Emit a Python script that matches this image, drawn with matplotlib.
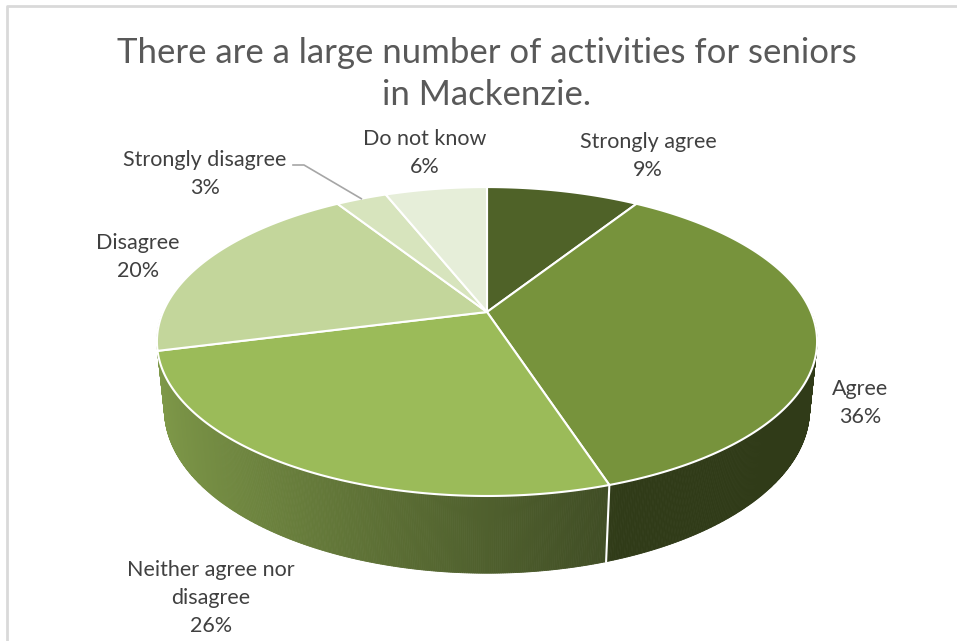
# 3D style pie chart of survey answers (Mackenzie seniors activities)

import numpy as np
import matplotlib.pyplot as plt
from matplotlib.patches import Polygon

title = "There are a large number of activities for seniors\nin Mackenzie."
categories = ["Strongly agree", "Agree", "Neither agree nor\ndisagree",
              "Disagree", "Strongly disagree", "Do not know"]
percents = [9, 36, 26, 20, 3, 6]
colors = ["#4f6228", "#77933c", "#9bbb59", "#c3d69b", "#d7e4bd", "#e6eed9"]

# where the labels sit (pixel coords of the text block centre)
label_pos = [(648, 156), (860, 403), (211, 598), (138, 257), (205, 174), (425, 153)]

W, H = 957, 641
CX, CY = 487, 312          # centre of the top face
L = 4.67                   # camera distance (radius = 1)
SE = 0.451                 # sin of elevation
CE = np.sqrt(1 - SE**2)
FX, FY = 1513, 1541
DEPTH = 0.232              # thickness of the pie


def proj(X, Y, Z):
    ry = Y + L * CE
    rz = Z - L * SE
    d = ry * CE - rz * SE
    sy = ry * SE + rz * CE
    return CX + FX * X / d, CY - FY * sy / d


def rim(t, z=0.0):
    return proj(np.sin(t), np.cos(t), z)


def shade(color, f):
    c = np.array(plt.matplotlib.colors.to_rgb(color))
    return tuple(c * f)


plt.rcParams['font.family'] = ['Lato', 'DejaVu Sans']

fig = plt.figure(figsize=(W / 100, H / 100), dpi=100)
ax = fig.add_axes([0, 0, 1, 1])
ax.set_xlim(0, W)
ax.set_ylim(H, 0)
ax.axis("off")

# chart border (only top and left edges show)
ax.plot([6.5, 6.5, W + 5], [H + 5, 6, 6], color="#d9d9d9", lw=2, zorder=0)

# wedge angles, clockwise from 12 o'clock
frac = np.array(percents) / sum(percents)
edges = np.concatenate([[0], np.cumsum(frac)]) * 2 * np.pi

# side wall strips (front half only), back to front
strips = []
for i in range(len(percents)):
    a0, a1 = edges[i], edges[i + 1]
    lo, hi = max(a0, np.pi / 2), min(a1, 3 * np.pi / 2)
    if hi <= lo:
        continue
    ts = np.linspace(lo, hi, max(int((hi - lo) * 200), 2))
    for t0, t1 in zip(ts[:-1], ts[1:]):
        tm = 0.5 * (t0 + t1)
        f = 0.4 + 0.42 * np.clip((0.35 - np.sin(tm)) / 1.32, 0, 1)
        x0, y0 = rim(t0)
        x1, y1 = rim(t1)
        x2, y2 = rim(t1, -DEPTH)
        x3, y3 = rim(t0, -DEPTH)
        strips.append((-np.cos(tm), [(x0, y0), (x1, y1), (x2, y2), (x3, y3)],
                       shade(colors[i], f)))
strips.sort(key=lambda s: s[0])
for _, pts, c in strips:
    ax.add_patch(Polygon(pts, closed=True, fc=c, ec=c, lw=0.6, zorder=1))

# white seams on the side wall at wedge boundaries
for a in edges[1:-1]:
    if np.cos(a) < -0.35:
        x0, y0 = rim(a)
        x1, y1 = rim(a, -DEPTH)
        ax.plot([x0, x1], [y0, y1], color="white", lw=1.5, zorder=2)

# top faces
for i in range(len(percents)):
    ts = np.linspace(edges[i], edges[i + 1], 200)
    xs, ys = rim(ts)
    pts = [(CX, CY)] + list(zip(xs, ys))
    ax.add_patch(Polygon(pts, closed=True, fc=colors[i], ec="white",
                         lw=1.5, joinstyle="round", zorder=3))

# labels
for i, (name, p) in enumerate(zip(categories, percents)):
    x, y = label_pos[i]
    ax.text(x, y, f"{name}\n{p}%", ha="center", va="center", fontsize=15.5,
            color="#404040", linespacing=1.5, zorder=5)

# leader line for the small slice
mid = 0.5 * (edges[4] + edges[5])
ex, ey = rim(mid)
ax.plot([293, 304, ex], [165, 165, ey], color="#a6a6a6", lw=1.2, zorder=4)

ax.text(487, 74, title, ha="center", va="center", fontsize=25,
        color="#595959", linespacing=1.4)

fig.savefig("out.png", dpi=100)
